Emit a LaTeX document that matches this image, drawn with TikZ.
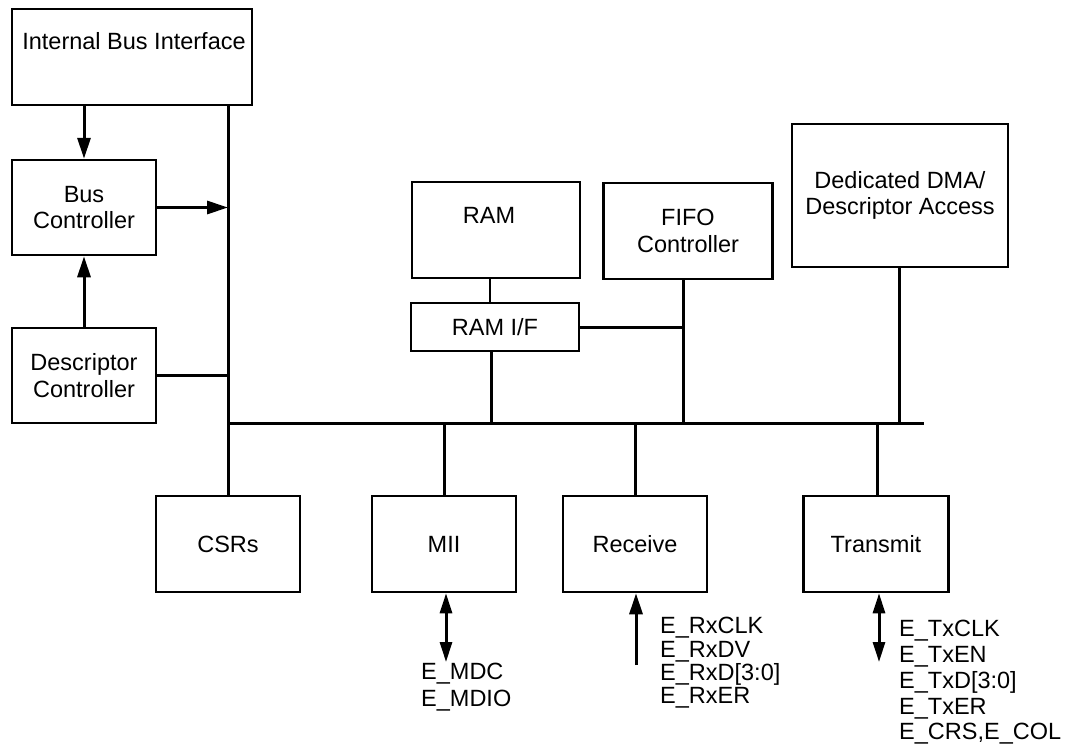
\documentclass[tikz,border=0pt]{standalone}
\usepackage{fontspec}
\setmainfont{Liberation Sans}
\usepackage{tikz}
\usetikzlibrary{arrows.meta, positioning}

\begin{document}
\begin{tikzpicture}[x=1pt, y=-1pt,
    every node/.style={font=\fontsize{23.5}{26.5}\selectfont, inner sep=0pt},
    blk/.style={draw, line width=2.5pt, align=center},
    bus/.style={line width=3pt},
    arr/.style={line width=3pt, -{Triangle[length=21pt, width=13pt]}},
    arrboth/.style={line width=3pt, {Triangle[length=20pt, width=12pt]}-{Triangle[length=20pt, width=12pt]}}]
    \useasboundingbox (0,0) rectangle (1068,747);

    % Blocks on the left
    \node[blk, minimum width=240pt, minimum height=96pt] (ibi) at (132,57) {};
    \node (ibitxt) at (134,41) {Internal Bus Interface};
    \node[blk, minimum width=144pt, minimum height=95pt] (busctl) at (84,207.5) {Bus\\Controller};
    \node[blk, minimum width=144pt, minimum height=95pt] (descctl) at (84,375.5) {Descriptor\\Controller};

    % Blocks on the bus
    \node[blk, minimum width=144pt, minimum height=96pt] (csrs) at (228,544) {CSRs};
    \node[blk, minimum width=144pt, minimum height=96pt] (mii) at (444,544) {MII};
    \node[blk, minimum width=144pt, minimum height=96pt] (rcv) at (635,544) {Receive};
    \node[blk, minimum width=145pt, minimum height=96pt] (xmit) at (876,544) {Transmit};

    % Memory side
    \node[blk, minimum width=168pt, minimum height=96pt] (ram) at (496,230) {};
    \node (ramtxt) at (489,215.5) {RAM};
    \node[blk, minimum width=168pt, minimum height=48pt] (ramif) at (495,327) {RAM I/F};
    \node[blk, minimum width=169pt, minimum height=96pt] (fifo) at (688,231) {FIFO\\Controller};
    \node[blk, minimum width=216pt, minimum height=143pt] (dma) at (900,195.5) {Dedicated DMA/\\Descriptor Access};

    % Bus lines
    \coordinate (busl) at (228,423);
    \coordinate (busr) at (924,423);
    \draw[bus] (ibi.south -| csrs.north) -- (csrs.north);
    \draw[bus] (busl) -- (busr);
    \draw[bus] (mii.north |- busl) -- (mii.north);
    \draw[bus] (rcv.north |- busl) -- (rcv.north);
    \draw[bus] (877,423) -- (877,496);
    \draw[bus] (491,351) -- (491,423);
    \draw[bus] (683,279) -- (683,423);
    \draw[bus] (dma.south -| 899,0) -- (899,423);
    \draw[line width=2pt] (490,278) -- (490,303);
    \draw[bus] (ramif.east) -- (683,327);
    \draw[bus] (descctl.east) -- (descctl.east -| csrs.north);

    % Arrows
    \draw[arr] (busctl.north |- ibi.south) -- (busctl.north);
    \draw[arr] (busctl.east) -- (busctl.east -| csrs.north);
    \draw[arr] (descctl.north) -- (busctl.south);

    % Pins
    \coordinate (mdcend) at (446,662);
    \draw[arrboth] (mdcend |- mii.south) -- (mdcend);
    \node[anchor=north west, align=left, font=\fontsize{23.5}{27}\selectfont] (mdcpins) at (421,663) {E\_MDC\\E\_MDIO};

    \coordinate (rxin) at (636,665);
    \draw[arr] (rxin) -- (rxin |- rcv.south);
    \node[anchor=north west, align=left, font=\fontsize{23.5}{23.4}\selectfont] (rxpins) at (660,617) {E\_RxCLK\\E\_RxDV\\E\_RxD[3:0]\\E\_RxER};

    \coordinate (txend) at (879,662);
    \draw[arrboth] (txend |- xmit.south) -- (txend);
    \node[anchor=north west, align=left, font=\fontsize{23.5}{25.8}\selectfont] (txpins) at (899,620) {E\_TxCLK\\E\_TxEN\\E\_TxD[3:0]\\E\_TxER\\E\_CRS,E\_COL};
\end{tikzpicture}
\end{document}
